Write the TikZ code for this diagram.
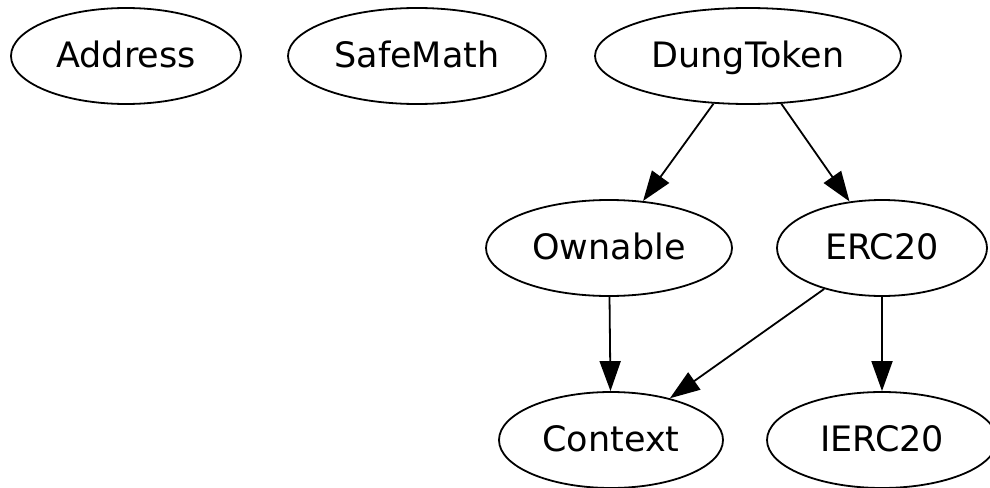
\documentclass[tikz,border=0pt]{standalone}
\usepackage{fontspec}
\setmainfont{DejaVu Sans}
\usetikzlibrary{shapes.geometric,arrows.meta}
\begin{document}
\begin{tikzpicture}[x=1pt,y=-1pt,
  cls/.style={ellipse,draw,line width=1.8pt,inner sep=0pt,minimum height=96pt,
    text height=26pt,text depth=4pt,
    font=\fontsize{35}{38}\selectfont},
  dep/.style={line width=1.8pt,-{Triangle[length=30pt,width=21pt]}}]
  \useasboundingbox (0,0) rectangle (990,487);
  \node[cls,minimum width=230pt] (address) at (126,56) {Address};
  \node[cls,minimum width=258pt] (safemath) at (417,56) {SafeMath};
  \node[cls,minimum width=306pt] (dung) at (748,56) {DungToken};
  \node[cls,minimum width=246pt] (ownable) at (609,248) {Ownable};
  \node[cls,minimum width=210pt] (erc) at (882,248) {ERC20};
  \node[cls,minimum width=224pt] (context) at (611,440) {Context};
  \node[cls,minimum width=230pt] (ierc) at (882,440) {IERC20};
  \draw[dep] (dung) -- (ownable);
  \draw[dep] (dung) -- (erc);
  \draw[dep] (ownable) -- (context);
  \draw[dep] (erc) -- (context);
  \draw[dep] (erc) -- (ierc);
\end{tikzpicture}
\end{document}
